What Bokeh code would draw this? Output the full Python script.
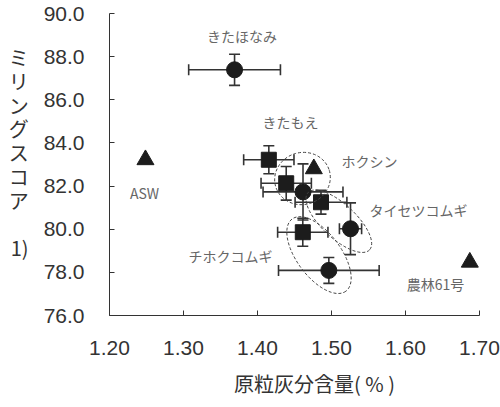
from bokeh.plotting import figure
from bokeh.models import (ColumnDataSource, Whisker, TeeHead,
                          FixedTicker, PrintfTickFormatter, Range1d)
from bokeh.core.properties import value
from bokeh.embed import file_html
from bokeh.resources import INLINE

# ---------------- data ----------------
# circles (mean +- sd)
circle_x = [1.369, 1.4615, 1.5257, 1.4964]
circle_y = [87.39, 81.73, 80.02, 78.09]
circle_xerr = [0.062, 0.054, 0.015, 0.068]
circle_yerr = [0.72, 1.30, 1.20, 0.60]

# squares (mean +- sd)
square_x = [1.4153, 1.4388, 1.4858, 1.4612]
square_y = [83.22, 82.13, 81.25, 79.86]
square_xerr = [0.034, 0.034, 0.035, 0.034]
square_yerr = [0.65, 0.78, 0.55, 0.65]

# reference varieties (triangles)
ref_x = [1.2486, 1.4761, 1.6869]
ref_y = [83.22, 82.80, 78.47]

# variety labels
label_text = ["きたほなみ", "きたもえ", "ホクシン", "タイセツコムギ", "チホクコムギ", "ASW", "農林61号"]
label_x = [1.379, 1.4446, 1.5514, 1.6176, 1.3635, 1.2473, 1.6405]
label_y = [88.98, 84.96, 83.14, 80.87, 78.78, 81.70, 77.47]

# group ellipses (centres)
ell_x = [1.4608, 1.5099, 1.4831]
ell_y = [82.35, 80.37, 78.80]

x_ticks = [1.20, 1.30, 1.40, 1.50, 1.60, 1.70]
y_ticks = [76, 78, 80, 82, 84, 86, 88, 90]

x_title = "原粒灰分含量( % )"
y_title = "ミリングスコア"
y_note = "1)"

# ---------------- style ----------------
ell_w_px = [56, 84, 90]
ell_h_px = [52, 34, 44]
ell_angle = [0.3, -0.75, -0.93]

INK = "#1c1c1c"
AX = "#333333"

p = figure(width=500, height=407, output_backend="svg", toolbar_location=None,
           x_range=Range1d(1.20, 1.70), y_range=Range1d(76, 90),
           min_border_left=109, min_border_right=21, min_border_top=13,
           min_border_bottom=92)
p.outline_line_color = None
p.xgrid.visible = False
p.ygrid.visible = False

for ax in (p.xaxis[0], p.yaxis[0]):
    ax.axis_line_color = AX
    ax.major_tick_line_color = AX
    ax.major_tick_in = 5
    ax.major_tick_out = 0
    ax.minor_tick_line_color = None
    ax.major_label_text_font = "Liberation Sans"
    ax.major_label_text_font_size = "21px"
    ax.major_label_text_color = AX
    ax.axis_label_text_font = "Noto Sans CJK JP"
    ax.axis_label_text_font_style = "normal"
    ax.axis_label_text_color = AX

p.xaxis.ticker = FixedTicker(ticks=x_ticks)
p.xaxis.formatter = PrintfTickFormatter(format="%.2f")
p.xaxis.major_label_standoff = 25
p.xaxis.axis_label = "\u3000\u3000" + x_title
p.xaxis.axis_label_text_font_size = "20px"
p.xaxis.axis_label_standoff = 11

p.yaxis.ticker = FixedTicker(ticks=y_ticks)
p.yaxis.formatter = PrintfTickFormatter(format="%.1f")
p.yaxis.major_label_standoff = 25
p.yaxis.axis_label = "\n".join(list(y_title) + ["", y_note, ""])
p.yaxis.axis_label_text_font_size = "20px"
p.yaxis.axis_label_text_line_height = 0.82
p.yaxis.axis_label_standoff = 12
try:
    p.yaxis.axis_label_orientation = "horizontal"
except Exception:
    pass

# error bars
def add_err(xs, ys, xe, ye):
    src = ColumnDataSource(dict(
        x=xs, y=ys,
        xl=[a - b for a, b in zip(xs, xe)], xu=[a + b for a, b in zip(xs, xe)],
        yl=[a - b for a, b in zip(ys, ye)], yu=[a + b for a, b in zip(ys, ye)]))
    for dim, base, lo, up in (("width", "y", "xl", "xu"), ("height", "x", "yl", "yu")):
        w = Whisker(source=src, base=base, lower=lo, upper=up, dimension=dim,
                    line_color=AX, line_width=1.6,
                    upper_head=TeeHead(size=11, line_color=AX, line_width=1.6),
                    lower_head=TeeHead(size=11, line_color=AX, line_width=1.6))
        p.add_layout(w)
    return src

csrc = add_err(circle_x, circle_y, circle_xerr, circle_yerr)
ssrc = add_err(square_x, square_y, square_xerr, square_yerr)

p.scatter("x", "y", source=csrc, marker="circle", size=16,
          fill_color=INK, line_color=INK)
p.scatter("x", "y", source=ssrc, marker="square", size=15,
          fill_color=INK, line_color=INK)
p.scatter(ref_x, ref_y, marker="triangle", size=17,
          fill_color=INK, line_color=INK)

# ellipses
p.ellipse(x=ell_x, y=ell_y, width=ell_w_px, height=ell_h_px, angle=ell_angle,
          width_units="screen", height_units="screen",
          fill_color=None, line_color="#444444", line_width=1.0, line_dash="3 2")

# variety labels
p.text(x=label_x, y=label_y, text=label_text,
       text_font=value("Noto Sans CJK JP"), text_font_size="14px",
       text_color="#666666", text_align="center", text_baseline="middle")

open("out.html", "w").write(file_html(p, INLINE))
